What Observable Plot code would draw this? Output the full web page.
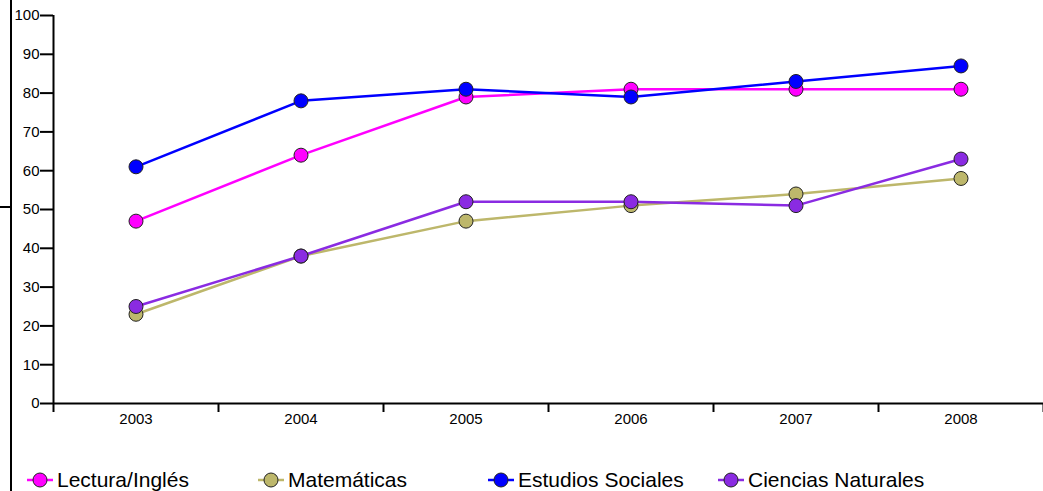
<!DOCTYPE html>
<html>
<head>
<meta charset="utf-8">
<script src="https://cdn.jsdelivr.net/npm/d3@7"></script>
<script src="https://cdn.jsdelivr.net/npm/@observablehq/plot@0.6"></script>
<style>
  html, body { margin: 0; padding: 0; background: #fff; }
  body { width: 1043px; height: 491px; position: relative; overflow: hidden; font-family: Arial, "Liberation Sans", sans-serif; }
  #chart svg text { font-size: 15px !important; font-family: Arial, "Liberation Sans", sans-serif !important; fill: #000; }
  #vline { position: absolute; left: 10px; top: 0; width: 2px; height: 491px; background: #000; }
  #hstub { position: absolute; left: 0; top: 206px; width: 11px; height: 2px; background: #000; }
  #legend { position: absolute; top: 466px; left: 0; width: 1043px; height: 28px; }
  .item { position: absolute; top: 0; display: flex; align-items: center; font-size: 21px; color: #000; white-space: nowrap; }
  .item svg { margin-right: 4px; }
</style>
</head>
<body>
<div id="chart"></div>
<div id="legend"></div>
<div id="vline"></div>
<div id="hstub"></div>
<script>
const years = [2003, 2004, 2005, 2006, 2007, 2008];
const seriesNames = ["Lectura/Inglés", "Matemáticas", "Estudios Sociales", "Ciencias Naturales"];
const seriesColors = ["#ff00ff", "#bdb76b", "#0000ff", "#8a2be2"];
const lectura = [47, 64, 79, 81, 81, 81];
const matematicas = [23, 38, 47, 51, 54, 58];
const estudios = [61, 78, 81, 79, 83, 87];
const ciencias = [25, 38, 52, 52, 51, 63];
const yTicks = [0, 10, 20, 30, 40, 50, 60, 70, 80, 90, 100];

const allValues = [lectura, matematicas, estudios, ciencias];
const data = [];
seriesNames.forEach((name, i) => {
  years.forEach((yr, j) => data.push({series: name, year: yr, value: allValues[i][j]}));
});
const boundaries = years.map(y => y - 0.5).concat([years[years.length - 1] + 0.5]);

const chart = Plot.plot({
  width: 1043,
  height: 440,
  marginLeft: 53,
  marginRight: 0,
  marginTop: 15,
  marginBottom: 37,
  style: {fontFamily: "Arial, 'Liberation Sans', sans-serif", fontSize: "15px", color: "#000", background: "#fff"},
  x: {domain: [boundaries[0], boundaries[boundaries.length - 1]], axis: null},
  y: {domain: [0, 100], axis: null},
  color: {domain: seriesNames, range: seriesColors},
  marks: [
    Plot.axisY({ticks: yTicks, tickSize: 13, tickPadding: 1, stroke: "#000", strokeWidth: 2, strokeOpacity: 1, label: null}),
    Plot.axisX({ticks: boundaries, tickSize: 9, tickFormat: () => "", stroke: "#000", strokeWidth: 2, strokeOpacity: 1, label: null}),
    Plot.axisX({ticks: years, tickSize: 0, tickPadding: 10, tickFormat: d => String(d), label: null}),
    Plot.ruleX([boundaries[0]], {y1: 0, y2: 100, stroke: "#000", strokeWidth: 2}),
    Plot.ruleY([0], {x1: boundaries[0], x2: boundaries[boundaries.length - 1], stroke: "#000", strokeWidth: 2}),
    Plot.line(data, {x: "year", y: "value", z: "series", stroke: "series", strokeWidth: 2.5}),
    Plot.dot(data, {x: "year", y: "value", fill: "series", stroke: "#222", strokeWidth: 1, r: 7})
  ]
});
d3.select(chart).selectAll("text").style("font-size", "15px");
document.getElementById("chart").appendChild(chart);

const legend = document.getElementById("legend");
const lefts = [27, 258, 488, 718];
seriesNames.forEach((name, i) => {
  const div = document.createElement("div");
  div.className = "item";
  div.style.left = lefts[i] + "px";
  div.innerHTML = `<svg width="26" height="28"><line x1="0" x2="26" y1="14" y2="14" stroke="${seriesColors[i]}" stroke-width="2.5"/><circle cx="13" cy="14" r="7" fill="${seriesColors[i]}" stroke="#222" stroke-width="1"/></svg><span>${name}</span>`;
  legend.appendChild(div);
});
</script>
</body>
</html>
